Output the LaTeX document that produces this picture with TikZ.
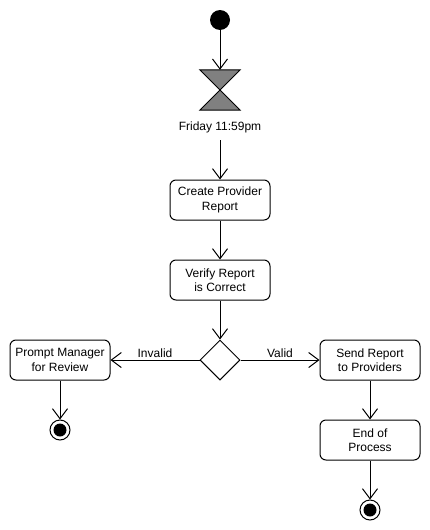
\documentclass[tikz,border=0pt]{standalone}
\usepackage{fontspec}
\setmainfont{Liberation Sans}
\usetikzlibrary{arrows.meta,shapes.geometric}
\begin{document}
\begin{tikzpicture}[x=1pt,y=-1pt,
  every node/.style={font=\fontsize{12pt}{14.5pt}\selectfont},
  act/.style={draw, rounded corners=6pt, minimum width=100pt, minimum height=40pt, align=center, inner sep=0pt, line width=1pt},
  conn/.style={-{Straight Barb[length=10pt,width=15pt]}, line width=1pt},
  finalnode/.style={circle, draw, line width=1pt, minimum size=20pt, inner sep=0pt, path picture={\fill[black] (path picture bounding box.center) circle (6.5pt);}},
  lab/.style={above, inner sep=2pt}
  ]
\useasboundingbox[fill=white] (0,0) rectangle (430,530);
\node[circle, fill=black, minimum size=20pt, inner sep=0pt] (start) at (220,20) {};
\node[minimum width=40pt, minimum height=40pt, inner sep=0pt] (hg) at (220,90) {};
\draw[fill=gray, line width=1pt] (hg.north west) -- (hg.north east) -- (hg.south west) -- (hg.south east) -- cycle;
\node[minimum height=26pt, inner sep=0pt] (lbl) at (220,127) {Friday 11:59pm};
\node[act] (create) at (220,200) {Create Provider\\Report};
\node[act] (verify) at (220,280) {Verify Report\\is Correct};
\node[diamond, draw, minimum width=40pt, minimum height=40pt, inner sep=0pt, line width=1pt] (dec) at (220,360) {};
\node[act] (prompt) at (60,360) {Prompt Manager\\for Review};
\node[act] (send) at (370,360) {Send Report\\to Providers};
\node[act] (endp) at (370,440) {End of\\Process};
\node[finalnode] (fin1) at (60,430) {};
\node[finalnode] (fin2) at (370,510) {};
\draw[conn] (start) -- (hg);
\draw[conn] (lbl) -- (create);
\draw[conn] (create) -- (verify);
\draw[conn] (verify) -- (dec);
\draw[conn] (dec) -- node[lab] {Invalid} (prompt);
\draw[conn] (dec) -- node[lab] {Valid} (send);
\draw[conn] (prompt) -- (fin1);
\draw[conn] (send) -- (endp);
\draw[conn] (endp) -- (fin2);
\end{tikzpicture}
\end{document}
